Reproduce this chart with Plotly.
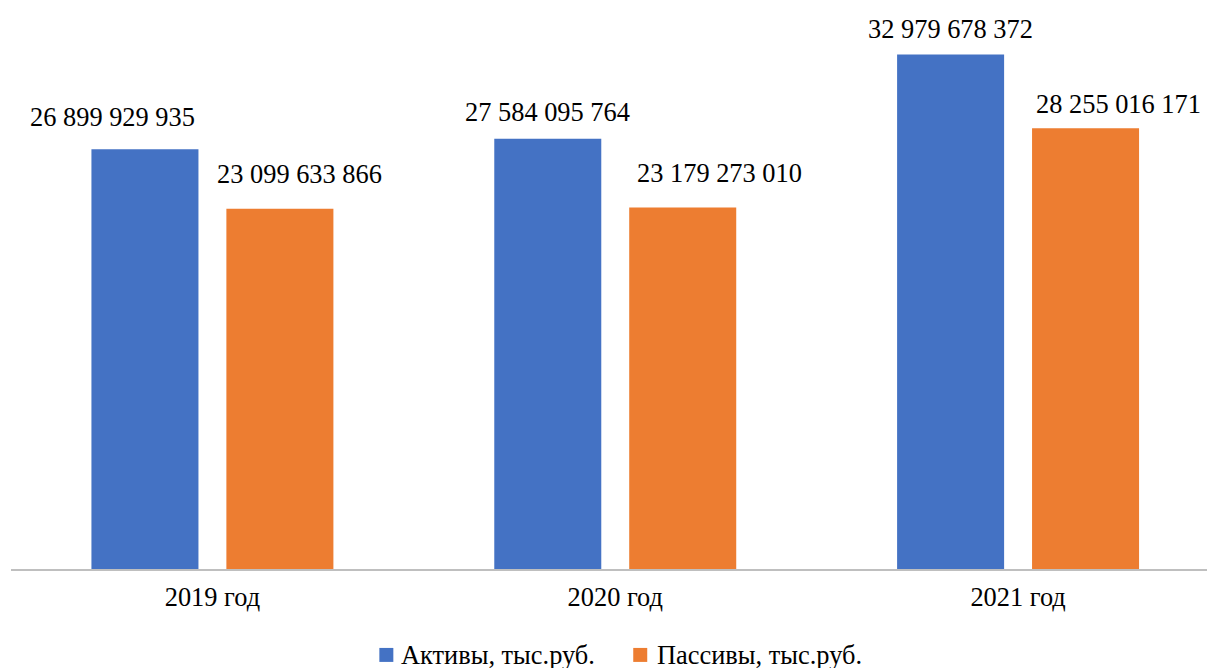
import plotly.graph_objects as go

categories = ["2019 год", "2020 год", "2021 год"]
aktivy = [26899929935, 27584095764, 32979678372]
passivy = [23099633866, 23179273010, 28255016171]
series_names = ["Активы, тыс.руб.", "Пассивы, тыс.руб."]

BLUE = "#4472C4"
ORANGE = "#ED7D31"
FONT = "Liberation Serif"
FS = 26.4

# label style offsets (pixels): horizontal shift and height of text centre above bar top
lab_dx = {0: [-32, 0, 0], 1: [20, 37, 33]}
lab_dy = {0: [32, 27, 25.5], 1: [35, 34, 24.5]}
bar_offset = [-67.5, 67.5]

W, H = 1207, 668
left = 10.5
top = 22.5
bottom = 99
cat_px = 403
plot_w = W - left
plot_h = H - top - bottom


def fmt(v):
    return f"{v:,}".replace(",", " ")


fig = go.Figure()
colors = [BLUE, ORANGE]
for i, vals in enumerate([aktivy, passivy]):
    fig.add_trace(go.Bar(
        x=categories, y=vals, name=series_names[i],
        marker=dict(color=colors[i], line=dict(width=0)),
        hoverinfo="skip", showlegend=False,
    ))

annotations = []
for i, vals in enumerate([aktivy, passivy]):
    for j, v in enumerate(vals):
        annotations.append(dict(
            x=categories[j], y=v, xref="x", yref="y",
            text=fmt(v), showarrow=False,
            xanchor="center", yanchor="middle",
            xshift=bar_offset[i] + lab_dx[i][j],
            yshift=lab_dy[i][j],
            font=dict(family=FONT, size=FS, color="black"),
        ))

# manual legend (reference legend sits at the very bottom edge)
leg_sq_x = [379, 633]   # left edge px of squares
leg_sq_y = 648          # top px
leg_sq = 14
leg_text_gap = [6, 8]
shapes = []
for i in range(2):
    px0 = leg_sq_x[i]
    shapes.append(dict(
        type="rect", xref="paper", yref="paper",
        x0=(px0 - left) / plot_w, x1=(px0 + leg_sq - left) / plot_w,
        y0=(H - bottom - (leg_sq_y + leg_sq)) / plot_h,
        y1=(H - bottom - leg_sq_y) / plot_h,
        fillcolor=colors[i], line=dict(width=0),
    ))
    annotations.append(dict(
        x=(px0 + leg_sq + leg_text_gap[i] - left) / plot_w,
        y=(H - bottom - (leg_sq_y + leg_sq / 2)) / plot_h,
        xref="paper", yref="paper", xanchor="left", yanchor="middle",
        text=series_names[i], showarrow=False,
        font=dict(family=FONT, size=FS, color="black"),
    ))

fig.update_layout(
    width=W, height=H, autosize=False,
    margin=dict(l=left, r=0, t=top, b=bottom, pad=0),
    paper_bgcolor="white", plot_bgcolor="white",
    barmode="group", bargap=0.33, bargroupgap=0.207,
    font=dict(family=FONT, size=FS, color="black"),
    annotations=annotations,
    shapes=shapes,
    showlegend=False,
    xaxis=dict(
        type="category",
        range=[-0.5, -0.5 + plot_w / cat_px],
        showline=True, linecolor="#BFBFBF", linewidth=1.5,
        ticks="", showgrid=False, zeroline=False,
        ticklabelstandoff=4, automargin=False,
        tickfont=dict(family=FONT, size=FS, color="black"),
        fixedrange=True,
    ),
    yaxis=dict(
        range=[0, 35e9], visible=False, showgrid=False, zeroline=False,
        fixedrange=True, automargin=False,
    ),
)

fig.write_html("out.html", config={"displayModeBar": False})
